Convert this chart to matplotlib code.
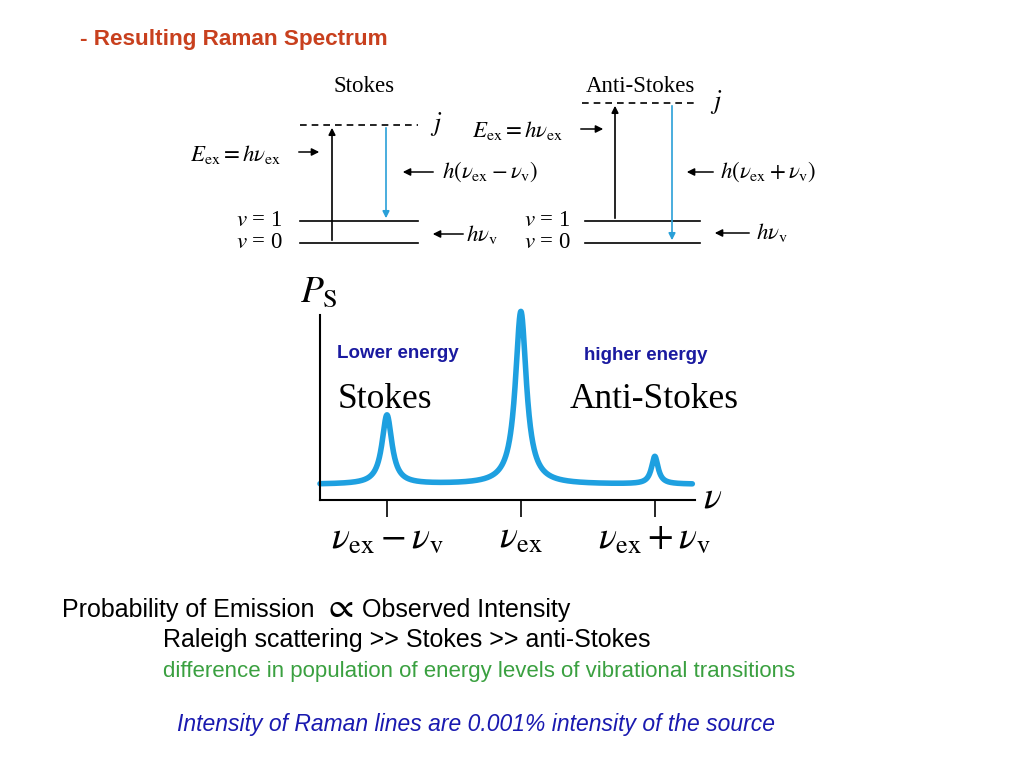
import numpy as np
import matplotlib
matplotlib.use("Agg")
import matplotlib.pyplot as plt

# data: schematic Raman spectrum peaks
peak_pos = [-1.0, 0.0, 1.0]
peak_height = [0.40, 1.00, 0.16]
peak_width = [0.045, 0.05, 0.03]
baseline = 0.09
tick_labels = [r"$\nu_{\rm ex} - \nu_{\rm v}$", r"$\nu_{\rm ex}$", r"$\nu_{\rm ex} + \nu_{\rm v}$"]

W, H = 1024, 768
fig = plt.figure(figsize=(10.24, 7.68), dpi=100)
bg = fig.add_axes([0, 0, 1, 1])
bg.set_xlim(0, W); bg.set_ylim(H, 0); bg.axis("off")
serif = "Liberation Serif"
sans = "Liberation Sans"
plt.rcParams["mathtext.fontset"] = "stix"

bg.text(80, 40, "- Resulting Raman Spectrum", color="#c8401e", fontsize=16.2,
        fontweight="bold", family=sans, va="center")

def level(x0, x1, y, dashed=False):
    bg.plot([x0, x1], [y, y], color="black", lw=1.2, ls=(0, (4, 3)) if dashed else "-")

def arrow(x, y0, y1, color="black"):
    bg.annotate("", xy=(x, y1), xytext=(x, y0),
                arrowprops=dict(arrowstyle="-|>", color=color, lw=1.2, mutation_scale=10))

def harrow(xfrom, xto, y):
    bg.annotate("", xy=(xto, y), xytext=(xfrom, y),
                arrowprops=dict(arrowstyle="-|>", lw=1.1, color="k", mutation_scale=11))

fs = 16.5
# Stokes diagram
bg.text(364, 86, "Stokes", family=serif, fontsize=fs, ha="center", va="center")
level(300, 418, 125, True); bg.text(430, 124, r"$j$", fontsize=fs+2, va="center")
level(300, 418, 221); level(300, 418, 243)
arrow(332, 243, 125); arrow(386, 125, 221, "#2aa0d8")
bg.text(190, 154, r"$E_{\rm ex} = h\nu_{\rm ex}$", fontsize=fs, va="center")
harrow(296, 322, 152)
harrow(436, 400, 172)
bg.text(442, 172, r"$h(\nu_{\rm ex} - \nu_{\rm v})$", fontsize=fs, va="center")
bg.text(236, 221, r"$v$ = 1", family=serif, fontsize=fs, va="center")
bg.text(236, 243, r"$v$ = 0", family=serif, fontsize=fs, va="center")
harrow(466, 430, 234)
bg.text(466, 234, r"$h\nu_{\rm v}$", fontsize=fs, va="center")

# Anti-Stokes diagram
bg.text(640, 86, "Anti-Stokes", family=serif, fontsize=fs, ha="center", va="center")
level(582, 697, 103, True); bg.text(710, 102, r"$j$", fontsize=fs+2, va="center")
level(585, 700, 221); level(585, 700, 243)
arrow(615, 221, 103); arrow(672, 103, 243, "#2aa0d8")
bg.text(472, 130, r"$E_{\rm ex} = h\nu_{\rm ex}$", fontsize=fs, va="center")
harrow(578, 606, 129)
harrow(716, 684, 172)
bg.text(720, 172, r"$h(\nu_{\rm ex} + \nu_{\rm v})$", fontsize=fs, va="center")
bg.text(524, 221, r"$v$ = 1", family=serif, fontsize=fs, va="center")
bg.text(524, 243, r"$v$ = 0", family=serif, fontsize=fs, va="center")
harrow(752, 712, 233)
bg.text(756, 233, r"$h\nu_{\rm v}$", fontsize=fs, va="center")

# Spectrum axes
x0, x1, ytop, ybot = 320, 695, 315, 500
ax = fig.add_axes([x0 / W, 1 - ybot / H, (x1 - x0) / W, (ybot - ytop) / H])
ax.set_facecolor("none")
x = np.linspace(-1.5, 1.28, 1500)
y = np.full_like(x, baseline)
for p, h, w in zip(peak_pos, peak_height, peak_width):
    y += h * w**2 / ((x - p) ** 2 + w**2)
ax.plot(x, y, color="#1ea0e0", lw=4, solid_capstyle="round", clip_on=False)
ax.set_xlim(-1.5, 1.3); ax.set_ylim(0, 1.07)
for s in ["top", "right"]:
    ax.spines[s].set_visible(False)
ax.spines["left"].set_linewidth(1.5); ax.spines["bottom"].set_linewidth(1.5)
ax.set_yticks([])
ax.set_xticks(peak_pos)
ax.set_xticklabels(tick_labels, fontsize=27)
ax.tick_params(axis="x", direction="out", length=12, width=1.2, pad=2)
bg.text(300, 292, r"$P_{\rm S}$", fontsize=27, va="center")
bg.text(703, 497, r"$\nu$", fontsize=27, va="center")
bg.text(337, 354, "Lower energy", color="#1a1aa0", fontsize=13.5, fontweight="bold", family=sans, va="center")
bg.text(584, 356, "higher energy", color="#1a1aa0", fontsize=13.5, fontweight="bold", family=sans, va="center")
bg.text(338, 400, "Stokes", family=serif, fontsize=25.5, va="center")
bg.text(570, 400, "Anti-Stokes", family=serif, fontsize=25.5, va="center")

# Bottom text
bg.text(62, 610, "Probability of Emission", family=sans, fontsize=18, va="center")
bg.text(323, 607, r"$\propto$", fontsize=26, va="center")
bg.text(362, 610, "Observed Intensity", family=sans, fontsize=18, va="center")
bg.text(163, 640, "Raleigh scattering >> Stokes >> anti-Stokes", family=sans, fontsize=18, va="center")
bg.text(163, 672, "difference in population of energy levels of vibrational transitions",
        family=sans, fontsize=16, color="#3aa040", va="center")
bg.text(177, 725, "Intensity of Raman lines are 0.001% intensity of the source",
        family=sans, fontsize=16.5, color="#1a1ab0", style="italic", va="center")

fig.savefig("out.png", dpi=100)
